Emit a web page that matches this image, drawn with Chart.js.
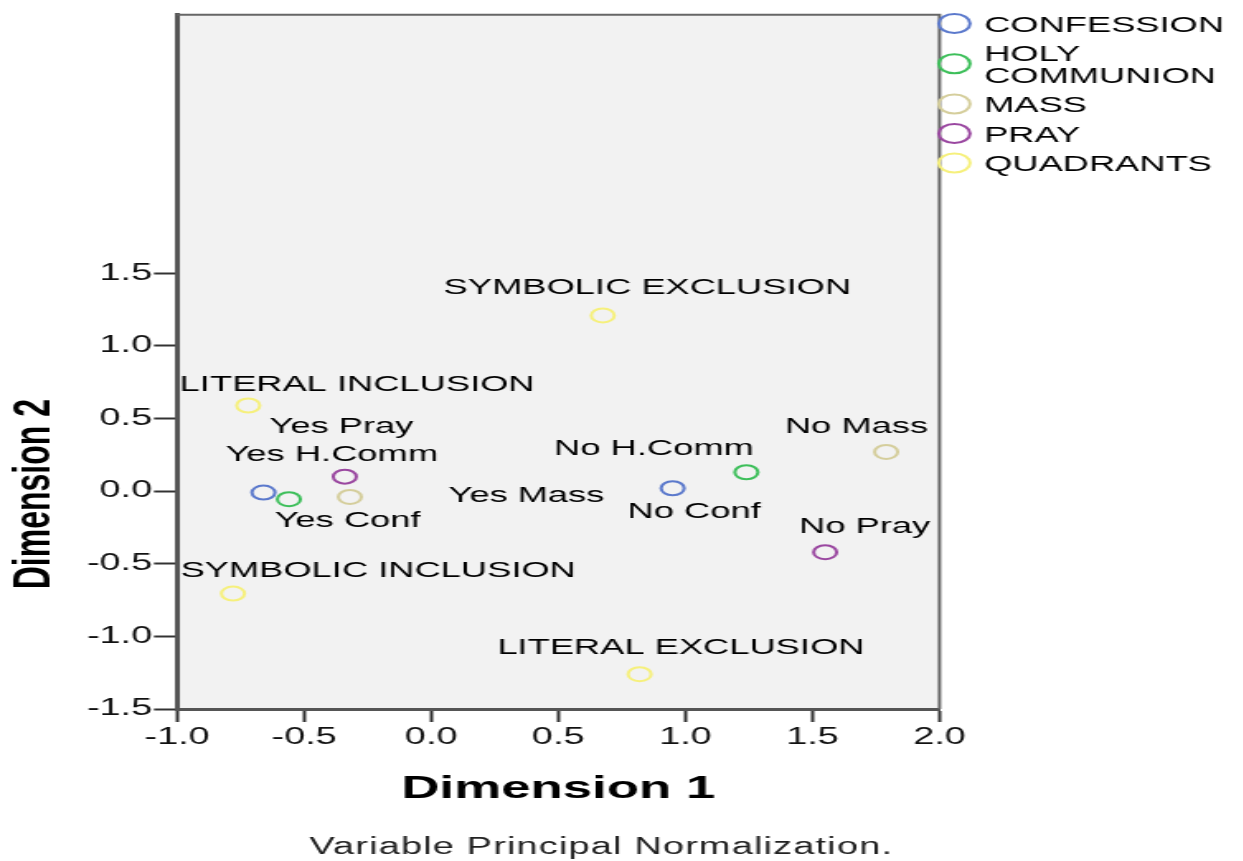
<!DOCTYPE html>
<html>
<head>
<meta charset="utf-8">
<script src="https://cdn.jsdelivr.net/npm/chart.js@4.4.1/dist/chart.umd.min.js"></script>
<style>
  html, body { margin: 0; padding: 0; background: #fff; overflow: hidden; }
  /* the original output is stretched sideways, so draw narrow and stretch the box */
  #wrap { width: 753px; height: 861px; transform: scaleX(1.65); transform-origin: 0 0; }
</style>
</head>
<body>
<div id="wrap"><canvas id="plot" width="753" height="861"></canvas></div>
<script>
// ---- data (object scores, Dimension 1 / Dimension 2) ----
const seriesNames = ['CONFESSION', 'HOLY COMMUNION', 'MASS', 'PRAY', 'QUADRANTS'];

const confX = [-0.66, 0.95];
const confY = [-0.01, 0.02];
const confLabels = ['Yes Conf', 'No Conf'];

const commX = [-0.56, 1.24];
const commY = [-0.055, 0.13];
const commLabels = ['Yes H.Comm', 'No H.Comm'];

const massX = [-0.32, 1.79];
const massY = [-0.04, 0.27];
const massLabels = ['Yes Mass', 'No Mass'];

const prayX = [-0.34, 1.55];
const prayY = [0.10, -0.42];
const prayLabels = ['Yes Pray', 'No Pray'];

const quadX = [0.675, -0.72, -0.78, 0.82];
const quadY = [1.21, 0.59, -0.705, -1.26];
const quadLabels = ['SYMBOLIC EXCLUSION', 'LITERAL INCLUSION', 'SYMBOLIC INCLUSION', 'LITERAL EXCLUSION'];

const xTicks = [-1.0, -0.5, 0.0, 0.5, 1.0, 1.5, 2.0];
const yTicks = [-1.5, -1.0, -0.5, 0.0, 0.5, 1.0, 1.5];
const yTop = 3.28;

const xTitle = 'Dimension 1';
const yTitle = 'Dimension 2';
const footnote = 'Variable Principal Normalization.';

// ---- styling ----
const FONT = "'Liberation Sans', Arial, sans-serif";
const colors = ['#5b79cc', '#3dbf5a', '#d5ce9c', '#9a47a0', '#f6f07c'];
// where SPSS put each point label, relative to its marker (px)
const labelNudge = {
  'Yes Conf': [51, 28], 'No Conf': [13, 24],
  'Yes H.Comm': [26, -44], 'No H.Comm': [-56, -23],
  'Yes Mass': [107, -1], 'No Mass': [-18, -25],
  'Yes Pray': [-2, -50], 'No Pray': [24, -25],
  'SYMBOLIC EXCLUSION': [27, -27], 'LITERAL INCLUSION': [66, -21],
  'SYMBOLIC INCLUSION': [88, -23], 'LITERAL EXCLUSION': [25, -26]
};

const pts = (xs, ys) => xs.map((x, i) => ({ x: x, y: ys[i] }));
const allX = [confX, commX, massX, prayX, quadX];
const allY = [confY, commY, massY, prayY, quadY];
const allLabels = [confLabels, commLabels, massLabels, prayLabels, quadLabels];

const datasets = seriesNames.map((name, i) => ({
  label: name,
  data: pts(allX[i], allY[i]),
  pointLabels: allLabels[i],
  borderColor: colors[i],
  backgroundColor: 'transparent',
  pointStyle: 'circle',
  pointRadius: 7,
  pointBorderWidth: 2,
  showLine: false
}));

// extras: plot background, frame, point labels, legend, rotated title, footnote
const spssPlugin = {
  id: 'spss',
  beforeDraw(chart) {
    const a = chart.chartArea, ctx = chart.ctx;
    ctx.save();
    ctx.fillStyle = '#f2f2f2';
    ctx.fillRect(a.left, a.top, a.right - a.left, a.bottom - a.top);
    ctx.restore();
  },
  afterDatasetsDraw(chart) {
    const ctx = chart.ctx;
    ctx.save();
    ctx.font = '22px ' + FONT;
    ctx.fillStyle = '#000';
    ctx.textAlign = 'center';
    ctx.textBaseline = 'middle';
    chart.data.datasets.forEach((ds, di) => {
      chart.getDatasetMeta(di).data.forEach((el, j) => {
        const txt = ds.pointLabels[j];
        const n = labelNudge[txt] || [0, -20];
        ctx.fillText(txt, el.x + n[0], el.y + n[1]);
      });
    });
    ctx.restore();
  },
  afterDraw(chart) {
    const a = chart.chartArea, ctx = chart.ctx;
    const ys = chart.scales.y;
    ctx.save();
    // top and right edges of the frame
    ctx.strokeStyle = '#666';
    ctx.lineWidth = 2;
    ctx.beginPath();
    ctx.moveTo(a.left, a.top);
    ctx.lineTo(a.right, a.top);
    ctx.lineTo(a.right, a.bottom);
    ctx.stroke();

    // legend
    ctx.font = '22px ' + FONT;
    ctx.textAlign = 'left';
    ctx.textBaseline = 'middle';
    const mx = a.right + 9, tx = a.right + 27, room = chart.width - tx;
    let y = 25.5;
    chart.data.datasets.forEach((ds) => {
      const lines = [];
      ds.label.split(' ').forEach(w => {
        const last = lines[lines.length - 1];
        if (last && ctx.measureText(last + ' ' + w).width <= room) lines[lines.length - 1] = last + ' ' + w;
        else lines.push(w);
      });
      const my = y + (lines.length - 1) * 21.5 / 2 - 2;
      ctx.strokeStyle = ds.borderColor;
      ctx.lineWidth = 2;
      ctx.beginPath();
      ctx.arc(mx, my, 9.5, 0, Math.PI * 2);
      ctx.stroke();
      ctx.fillStyle = '#000';
      lines.forEach((ln, k) => ctx.fillText(ln, tx, y + k * 21.5));
      y += (lines.length - 1) * 21.5 + 29.5;
    });

    // rotated y title, centred on the ticked range
    const yMid = (ys.getPixelForValue(yTicks[0]) + ys.getPixelForValue(yTicks[yTicks.length - 1])) / 2 + 3;
    ctx.save();
    ctx.translate(21, yMid);
    ctx.rotate(-Math.PI / 2);
    ctx.font = 'bold 32px ' + FONT;
    ctx.fillStyle = '#000';
    ctx.textAlign = 'center';
    ctx.fillText(yTitle, 0, 0);
    ctx.restore();

    // footnote
    ctx.font = '23px ' + FONT;
    ctx.letterSpacing = '0.7px';
    ctx.fillStyle = '#222';
    ctx.textAlign = 'center';
    ctx.fillText(footnote, (a.left + a.right) / 2 + 26, chart.height - 13);
    ctx.restore();
  }
};

new Chart(document.getElementById('plot').getContext('2d'), {
  type: 'scatter',
  data: { datasets: datasets },
  plugins: [spssPlugin],
  options: {
    responsive: false,
    animation: false,
    events: [],
    layout: { padding: { top: 9, right: 183.6, bottom: 53, left: 0 } },
    plugins: { legend: { display: false }, tooltip: { enabled: false } },
    scales: {
      x: {
        type: 'linear',
        min: xTicks[0],
        max: xTicks[xTicks.length - 1],
        afterBuildTicks: s => { s.ticks = xTicks.map(v => ({ value: v })); },
        afterFit: s => { s.height = 99; },
        ticks: { font: { size: 23, family: FONT }, color: '#111', padding: 2, callback: v => v.toFixed(1) },
        grid: { drawOnChartArea: false, drawTicks: true, tickLength: 13, tickWidth: 2, tickColor: '#333' },
        border: { color: '#555', width: 3 },
        title: { display: true, text: xTitle, color: '#000', font: { size: 32, weight: 'bold', family: FONT }, padding: { top: 18, bottom: 0 } }
      },
      y: {
        type: 'linear',
        min: yTicks[0],
        max: yTop,
        afterBuildTicks: s => { s.ticks = yTicks.map(v => ({ value: v })); },
        afterFit: s => { s.width = 107.3; },
        ticks: { font: { size: 23, family: FONT }, color: '#111', padding: 1, callback: v => v.toFixed(1) },
        grid: { drawOnChartArea: false, drawTicks: true, tickLength: 14, tickWidth: 2, tickColor: '#333' },
        border: { color: '#555', width: 3 }
      }
    }
  }
});
</script>
</body>
</html>
